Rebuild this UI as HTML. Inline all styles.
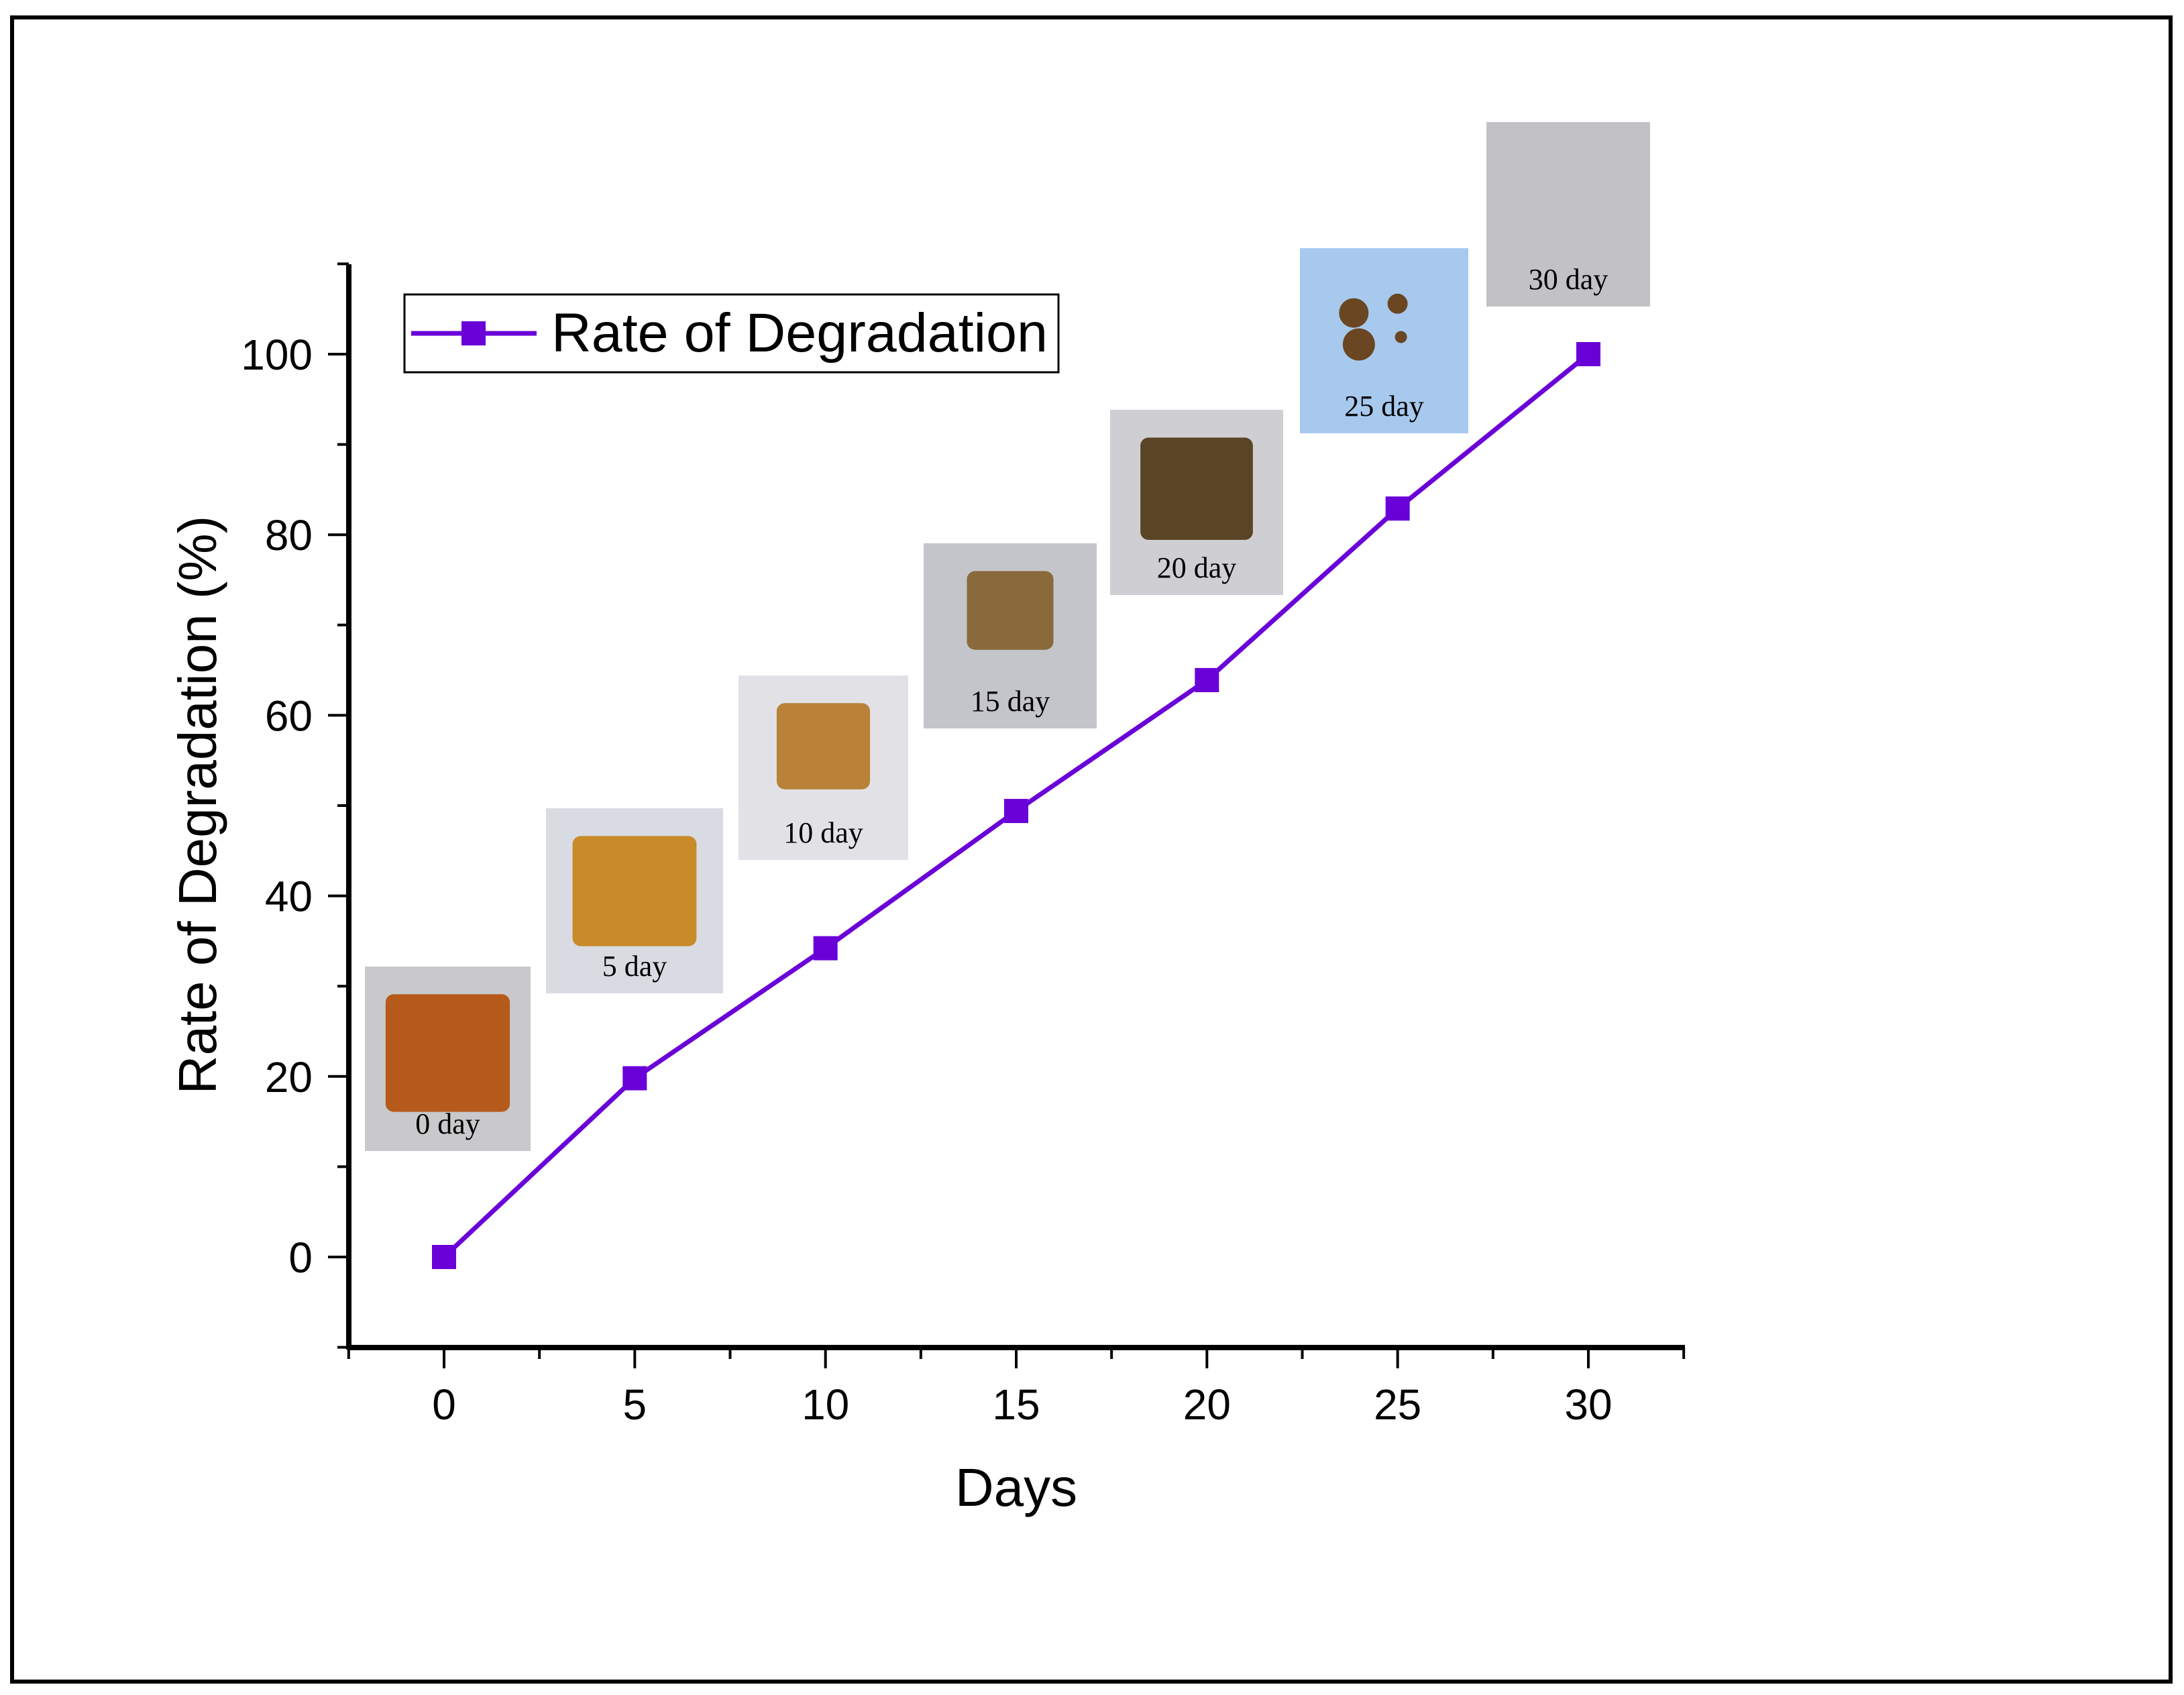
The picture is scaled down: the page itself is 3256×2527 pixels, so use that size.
<!DOCTYPE html>
<html><head><meta charset="utf-8"><style>
html,body{margin:0;padding:0;background:#fff;}
svg{display:block;}
</style></head><body>
<svg id="chart" width="3256" height="2527" viewBox="0 0 3256 2527" xmlns="http://www.w3.org/2000/svg">
<rect x="18" y="26" width="3218" height="2481" fill="#fff" stroke="#000" stroke-width="6"/>
<g id="photos"></g>
<g id="axes"></g>
<g id="series"></g>
<g>
<rect x="603" y="439" width="975" height="116" fill="#fff" stroke="#000" stroke-width="3"/>
<line x1="613" y1="497" x2="800" y2="497" stroke="#6a00d8" stroke-width="7"/>
<rect x="688" y="479" width="36" height="36" fill="#6a00d8"/>
<text x="822" y="524" font-family="Liberation Sans, sans-serif" font-size="82" textLength="740" lengthAdjust="spacingAndGlyphs" fill="#000">Rate of Degradation</text>
</g>
<text x="730" y="2245" text-anchor="middle" font-family="Liberation Sans, sans-serif" font-size="80" id="xt">Days</text>
<text transform="translate(322,1200) rotate(-90)" text-anchor="middle" font-family="Liberation Sans, sans-serif" font-size="80">Rate of Degradation (%)</text>
</svg>
<script>
const days = [0, 5, 10, 15, 20, 25, 30];
const rates = [0, 19.8, 34.2, 49.4, 63.9, 82.9, 100];
const xTicks = [0, 5, 10, 15, 20, 25, 30];
const yTicks = [0, 20, 40, 60, 80, 100];
const photoLabels = ["0 day", "5 day", "10 day", "15 day", "20 day", "25 day", "30 day"];

const NS = "http://www.w3.org/2000/svg";
function X(d){ return 662 + (d - 0) * (2368 - 662) / 30; }
function Y(v){ return 1874 - v * (1874 - 528) / 100; }
function mk(tag, attrs, parent){ const e = document.createElementNS(NS, tag); for (const k in attrs) e.setAttribute(k, attrs[k]); parent.appendChild(e); return e; }

const axes = document.getElementById('axes');
document.getElementById('xt').setAttribute('x', X(15));
const xa = mk('line', {x1:519, y1:2009, x2:2512, y2:2009, stroke:'#000', 'stroke-width':8}, axes);


const ya = mk('line', {x1:520, y1:394, x2:520, y2:2012, stroke:'#000', 'stroke-width':8}, axes);


for (let d = -2.5; d <= 32.6; d += 2.5) {
  const major = Math.abs(d % 5) < 0.01;
  const t = mk('line', {x1:X(d), y1:2009, x2:X(d), y2: major ? 2040 : 2026, stroke:'#000', 'stroke-width':4}, axes);
  
  
}
xTicks.forEach(v => {
  const t = mk('text', {x:X(v), y:2116, 'text-anchor':'middle', 'font-family':'Liberation Sans, sans-serif', 'font-size':64}, axes);
  t.textContent = v;
  
  
});
for (let v = -10; v <= 110; v += 10) {
  const major = v % 20 === 0;
  const t = mk('line', {x1: major ? 489 : 503, y1:Y(v), x2:520, y2:Y(v), stroke:'#000', 'stroke-width':4}, axes);
  
  
}
yTicks.forEach(v => {
  const t = mk('text', {x:466, y:Y(v)+23, 'text-anchor':'end', 'font-family':'Liberation Sans, sans-serif', 'font-size':64}, axes);
  t.textContent = v;
  
  
});

const photoBoxes = [[544,1441,247,275],[814,1205,264,276],[1101,1007,253,275],[1377,810,258,276],[1655,611,258,276],[1938,370,251,276],[2216,182,244,275]];
const bgs = ['#c9c9cb','#d8dce2','#e2e2e6','#c4c5cb','#cfcfd3','#a8c9ee','#c2c2c6'];
const blobs = ['#b65a1c','#c98a2a','#b98238','#8a6a3a','#5a4426',null,null];
const photos = document.getElementById('photos');
photoBoxes.forEach((b, i) => {
  const g = mk('g', {}, photos);
  
  
  mk('rect', {x:b[0], y:b[1], width:b[2], height:b[3], fill:bgs[i]}, g);
  if (blobs[i]) {
    const s = [0.75,0.7,0.55,0.5,0.65][i];
    mk('rect', {x:b[0]+b[2]*(1-s)/2, y:b[1]+b[3]*0.15, width:b[2]*s, height:b[3]*s*0.85, rx:12, fill:blobs[i]}, g);
  }
  if (i === 5) {
    [[0.32,0.35,22],[0.58,0.3,15],[0.35,0.52,24],[0.6,0.48,9]].forEach(p =>
      mk('circle', {cx:b[0]+b[2]*p[0], cy:b[1]+b[3]*p[1], r:p[2], fill:'#6a4622'}, g));
  }
  const t = mk('text', {x:b[0]+b[2]/2, y:b[1]+b[3]-26, 'text-anchor':'middle', 'font-family':'Liberation Serif, serif', 'font-size':44, fill:'#000'}, g);
  t.textContent = photoLabels[i];
  
  
});

const series = document.getElementById('series');
const pl = mk('polyline', {points: days.map((d,i)=>X(d)+','+Y(rates[i])).join(' '), fill:'none', stroke:'#6a00d8', 'stroke-width':7}, series);


days.forEach((d, i) => {
  const r = mk('rect', {x:X(d)-18, y:Y(rates[i])-18, width:36, height:36, fill:'#6a00d8'}, series);
  
  
});
</script>
</body></html>
